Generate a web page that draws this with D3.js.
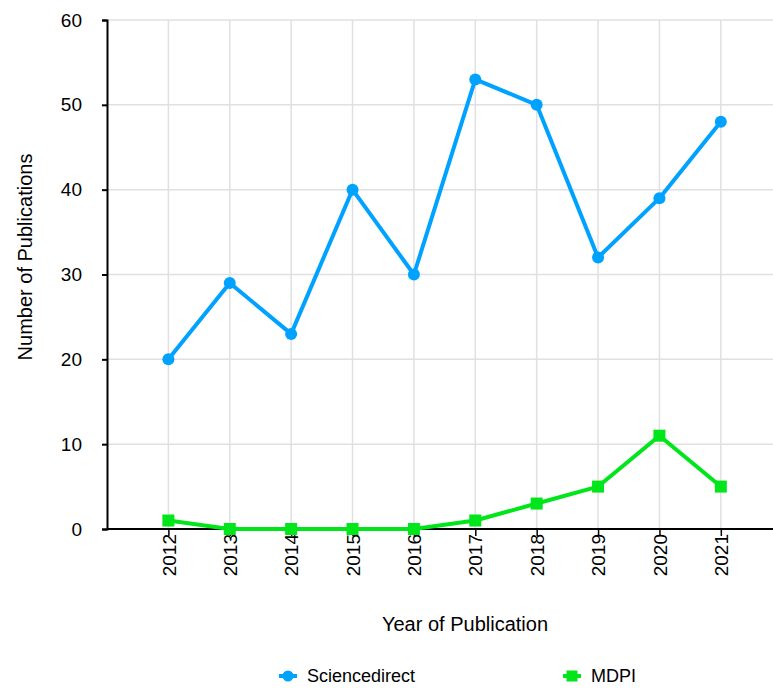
<!DOCTYPE html>
<html>
<head>
<meta charset="utf-8">
<script src="https://cdn.jsdelivr.net/npm/d3@7"></script>
<style>
  body { margin: 0; background: #fff; }
  svg { font-family: "Liberation Sans", Arial, sans-serif; }
</style>
</head>
<body>
<div id="chart"></div>
<script>
const years = [2012, 2013, 2014, 2015, 2016, 2017, 2018, 2019, 2020, 2021];
const sciencedirect = [20, 29, 23, 40, 30, 53, 50, 32, 39, 48];
const mdpi = [1, 0, 0, 0, 0, 1, 3, 5, 11, 5];
const yTicks = [0, 10, 20, 30, 40, 50, 60];
const seriesNames = ['Sciencedirect', 'MDPI'];

const width = 773, height = 688;
const margin = { left: 107, top: 20, right: 0, bottom: 159 };

const svg = d3.select('#chart').append('svg')
  .attr('width', width)
  .attr('height', height);

// x: one step of padding on the left, runs off the right edge
const x = d3.scaleLinear()
  .domain([2011, 2021.85])
  .range([margin.left, width - margin.right]);

const y = d3.scaleLinear()
  .domain([0, 60])
  .range([height - margin.bottom, margin.top]);

const grid = svg.append('g');

// vertical gridlines
grid.selectAll('.vg')
  .data(years)
  .enter()
  .append('line')
  .attr('x1', d => x(d)).attr('x2', d => x(d))
  .attr('y1', y(60)).attr('y2', y(0))
  .attr('stroke', '#e0e0e0')
  .attr('stroke-width', 1.5);

// horizontal gridlines
grid.selectAll('.hg')
  .data(yTicks)
  .enter()
  .append('line')
  .attr('x1', x(2011)).attr('x2', width)
  .attr('y1', d => y(d)).attr('y2', d => y(d))
  .attr('stroke', '#e0e0e0')
  .attr('stroke-width', 1.5);

// y axis
const yAxis = svg.append('g')
  .attr('transform', `translate(${x(2011)},0)`)
  .call(d3.axisLeft(y).tickValues(yTicks).tickSize(5).tickPadding(20));
yAxis.select('.domain').attr('stroke', '#000').attr('stroke-width', 2);
yAxis.selectAll('.tick line').attr('stroke', '#000').attr('stroke-width', 2);
yAxis.selectAll('text')
  .attr('font-size', 19).attr('fill', '#000')
  .attr('font-family', '"Liberation Sans", Arial, sans-serif');

// x axis
const xAxis = svg.append('g')
  .attr('transform', `translate(0,${y(0)})`)
  .call(d3.axisBottom(x).tickValues(years).tickFormat(d3.format('d')).tickSize(7).tickSizeOuter(0));
xAxis.select('.domain').attr('stroke', '#000').attr('stroke-width', 2)
  .attr('d', `M${x(2011)},0H${width}`);
xAxis.selectAll('.tick line').attr('stroke', '#000').attr('stroke-width', 1.5);
xAxis.selectAll('text')
  .attr('font-size', 19).attr('fill', '#000')
  .attr('font-family', '"Liberation Sans", Arial, sans-serif')
  .attr('transform', 'rotate(-90)')
  .attr('text-anchor', 'end')
  .attr('x', -5)
  .attr('y', 0)
  .attr('dy', '0.35em');

// axis titles
svg.append('text')
  .attr('x', 465).attr('y', 631)
  .attr('text-anchor', 'middle')
  .attr('font-size', 20)
  .text('Year of Publication');

svg.append('text')
  .attr('transform', `translate(32,257) rotate(-90)`)
  .attr('text-anchor', 'middle')
  .attr('font-size', 20)
  .text('Number of Publications');

const colors = ['#00a2ff', '#00e61a'];
const series = [sciencedirect, mdpi];

const line = d3.line()
  .x((d, i) => x(years[i]))
  .y(d => y(d));

series.forEach((vals, s) => {
  svg.append('path')
    .datum(vals)
    .attr('fill', 'none')
    .attr('stroke', colors[s])
    .attr('stroke-width', 4)
    .attr('stroke-linejoin', 'round')
    .attr('d', line);

  if (s === 0) {
    svg.selectAll('.pt0')
      .data(vals)
      .enter()
      .append('circle')
      .attr('cx', (d, i) => x(years[i]))
      .attr('cy', d => y(d))
      .attr('r', 6)
      .attr('fill', colors[s]);
  } else {
    svg.selectAll('.pt1')
      .data(vals)
      .enter()
      .append('rect')
      .attr('x', (d, i) => x(years[i]) - 6)
      .attr('y', d => y(d) - 6)
      .attr('width', 12)
      .attr('height', 12)
      .attr('fill', colors[s]);
  }
});

// legend
const legendX = [288, 572];
const legendY = 676;
seriesNames.forEach((name, s) => {
  const g = svg.append('g').attr('transform', `translate(${legendX[s]},${legendY})`);
  g.append('line')
    .attr('x1', -9).attr('x2', 9)
    .attr('stroke', colors[s]).attr('stroke-width', 4);
  if (s === 0) {
    g.append('circle').attr('r', 5.5).attr('fill', colors[s]);
  } else {
    g.append('rect').attr('x', -5.5).attr('y', -5.5).attr('width', 11).attr('height', 11).attr('fill', colors[s]);
  }
  g.append('text')
    .attr('x', 19).attr('dy', '0.35em')
    .attr('font-size', 18)
    .text(name);
});
</script>
</body>
</html>
